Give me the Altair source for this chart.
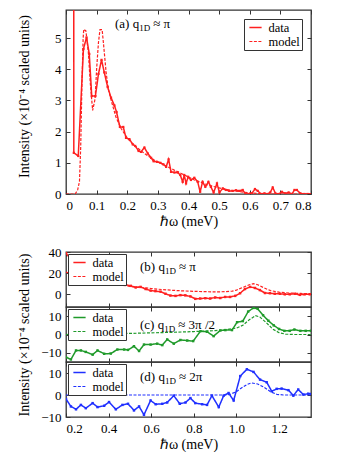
import altair as alt
import pandas as pd

FONT = "Liberation Serif"
RED = "#ff2020"
GREEN = "#1f9a2a"
BLUE = "#2030ff"
FRAME = "#333333"

# ---------------- panel (a) ----------------
a_data_x = [0.025, 0.0255, 0.040, 0.057, 0.067, 0.076, 0.084, 0.096, 0.106, 0.116, 0.125, 0.136,
            0.147, 0.158, 0.165, 0.176, 0.187, 0.196, 0.207, 0.218, 0.226, 0.237, 0.245, 0.256,
            0.267, 0.278, 0.286, 0.297, 0.308, 0.318, 0.327, 0.335, 0.343, 0.354, 0.365, 0.373,
            0.381, 0.386, 0.392, 0.399, 0.408, 0.419, 0.430, 0.438, 0.446, 0.455, 0.465, 0.473,
            0.482, 0.493, 0.501, 0.512, 0.522, 0.533, 0.544, 0.555, 0.566, 0.577, 0.586, 0.596,
            0.607, 0.617, 0.626, 0.637, 0.648, 0.658, 0.667, 0.675, 0.684, 0.694, 0.705, 0.716,
            0.727, 0.738, 0.746, 0.754, 0.765, 0.778, 0.789, 0.800]
a_data_y = [20.0, 1.32, 1.22, 4.65, 5.02, 4.49, 3.14, 3.14, 3.85, 4.30, 3.90, 3.43,
            3.09, 2.84, 2.63, 2.15, 2.15, 1.80, 1.76, 1.59, 1.54, 1.38, 1.35, 1.49,
            1.30, 1.16, 1.05, 1.03, 1.00, 0.95, 0.87, 1.11, 0.71, 0.69, 0.69, 0.61,
            0.39, 0.61, 0.34, 0.55, 0.45, 0.52, 0.39, 0.07, 0.39, 0.23, 0.39, 0.23,
            0.05, 0.34, 0.05, 0.18, 0.13, 0.10, 0.10, 0.12, 0.10, 0.13, 0.00, 0.00,
            0.02, 0.16, 0.10, 0.00, 0.02, 0.00, 0.05, 0.21, 0.02, 0.00, 0.07, 0.02,
            0.05, 0.00, 0.13, 0.13, 0.02, 0.00, 0.00, 0.00]
a_model_x = [0.0, 0.030, 0.038, 0.044, 0.048, 0.052, 0.056, 0.058, 0.065, 0.073, 0.079, 0.087,
             0.095, 0.100, 0.106, 0.111, 0.118, 0.123, 0.131, 0.138, 0.149, 0.163, 0.180,
             0.201, 0.223, 0.256, 0.288, 0.332, 0.376, 0.419, 0.463, 0.506, 0.550, 0.604,
             0.658, 0.800]
a_model_y = [0.0, 0.0, 0.13, 0.4, 1.5, 3.5, 5.0, 5.28, 5.23, 4.54, 3.59, 2.68,
             3.05, 4.01, 4.86, 5.27, 5.27, 4.76, 3.90, 3.37, 2.95, 2.47, 2.10,
             1.78, 1.56, 1.30, 1.09, 0.87, 0.66, 0.45, 0.29, 0.18, 0.10, 0.03,
             0.0, 0.0]

# ---------------- panel (b) ----------------
b_data_x = [0.200, 0.223, 0.247, 0.270, 0.293, 0.317, 0.340, 0.364, 0.387, 0.410, 0.434, 0.457,
            0.480, 0.504, 0.527, 0.550, 0.574, 0.597, 0.620, 0.644, 0.667, 0.690, 0.714, 0.737,
            0.760, 0.784, 0.807, 0.830, 0.854, 0.877, 0.900, 0.924, 0.947, 0.970, 0.994, 1.017,
            1.040, 1.064, 1.087, 1.110, 1.134, 1.157, 1.180, 1.204, 1.227, 1.250, 1.274, 1.297,
            1.320, 1.344]
b_data_y = [39, 33, 28, 24, 21, 19, 17, 15, 14, 13, 12, 10,
            9, 8, 6.5, 7, 5, 3.5, 3, 2.5, 0.5, -1.2, -1.5, -0.8,
            -1, -2, -4.3, -4, -3.7, -4, -3, -3.5, -2.5, -2.5, -1.5, 1.0,
            5, 7, 6, 4, 1.2, 1, 0.5, 0.5, 0, 0, 0.5, -0.5,
            0, 0]
b_model_x = [0.20, 0.25, 0.30, 0.35, 0.40, 0.45, 0.50, 0.55, 0.60, 0.65, 0.70, 0.75, 0.80,
             0.85, 0.90, 0.95, 0.98, 1.00, 1.03, 1.06, 1.08, 1.10, 1.13, 1.16, 1.20, 1.25,
             1.30, 1.35]
b_model_y = [21, 18, 15, 12.5, 10.5, 9, 7.5, 6.5, 5.5, 4.5, 3.8, 3.2, 2.8,
             2.5, 2.3, 2.5, 3, 4, 6.5, 9, 10, 9, 6, 3.5, 2, 1.2,
             0.8, 0.6]

# ---------------- panel (c) ----------------
c_data_x = [0.200, 0.223, 0.247, 0.270, 0.293, 0.325, 0.348, 0.379, 0.410, 0.441, 0.473, 0.491,
            0.519, 0.543, 0.566, 0.597, 0.628, 0.652, 0.675, 0.706, 0.737, 0.769, 0.797, 0.831,
            0.862, 0.893, 0.924, 0.948, 0.979, 1.003, 1.030, 1.055, 1.080, 1.100, 1.125, 1.150,
            1.175, 1.200, 1.225, 1.250, 1.272, 1.300, 1.325, 1.350]
c_data_y = [-12.4, -13.6, -8.7, -8.7, -9.5, -11.0, -8.7, -10.5, -10.4, -8.2, -8.2, -8.4,
            -6.4, -9.0, -5.5, -5.5, -5.0, -5.8, -2.7, -5.0, -3.0, -3.3, -3.6, 1.8,
            1.5, -0.9, 2.2, 2.4, 2.4, 6.7, 7.3, 12.5, 14.5, 14.0, 10.5, 7.5,
            5.0, 3.0, 2.0, 2.0, 2.7, 2.0, 2.0, 2.0]
c_model_x = [0.20, 0.30, 0.40, 0.50, 0.60, 0.70, 0.80, 0.90, 0.95, 1.00, 1.03, 1.06, 1.09,
             1.11, 1.14, 1.17, 1.20, 1.23, 1.27, 1.35]
c_model_y = [0.0, 0.2, 0.4, 0.6, 0.9, 1.2, 1.6, 2.1, 2.6, 3.5, 5.0, 8.0, 10.3,
             9.5, 6.5, 3.0, 1.0, 0.2, 0.0, 0.0]

# ---------------- panel (d) ----------------
d_data_x = [0.200, 0.223, 0.247, 0.270, 0.293, 0.325, 0.348, 0.379, 0.402, 0.434, 0.465, 0.491,
            0.519, 0.543, 0.566, 0.597, 0.621, 0.652, 0.675, 0.706, 0.734, 0.761, 0.784, 0.807,
            0.839, 0.862, 0.885, 0.917, 0.940, 0.963, 0.987, 1.018, 1.049, 1.080, 1.111, 1.142,
            1.166, 1.189, 1.212, 1.244, 1.267, 1.290, 1.314, 1.337, 1.350]
d_data_y = [-1.8, -5.2, -6.5, -4.5, -6.0, -3.7, -5.5, -4.9, -3.2, -6.5, -4.5, -4.0,
            -7.0, -5.2, -9.0, -2.5, -4.2, -4.0, -3.4, -0.3, -4.0, -3.4, -1.4, -3.7,
            -4.2, -4.5, -0.3, -5.5, -0.3, 0.9, -2.5, 8.6, 11.7, 10.5, 7.0, 5.8,
            1.7, 2.8, 2.9, 2.2, -0.3, 2.5, 0.2, 0.6, 0.5]
d_model_x = [0.20, 0.94, 0.97, 1.00, 1.02, 1.05, 1.07, 1.10, 1.13, 1.16, 1.19, 1.22, 1.35]
d_model_y = [0.0, 0.0, 0.3, 1.5, 3.0, 4.8, 5.5, 5.0, 3.5, 1.5, 0.3, 0.0, 0.0]

SERIES = ["data", "model"]
YTITLE = "Intensity (×10⁻⁴ scaled units)"
XTITLE = "ℏω (meV)"


def frame_df(dx, dy, mx, my):
    d = pd.DataFrame({"x": dx, "y": dy, "series": "data"})
    m = pd.DataFrame({"x": mx, "y": my, "series": "model"})
    return pd.concat([d, m], ignore_index=True), d


def text_layer(x, y, txt, size):
    return alt.Chart(pd.DataFrame({"k": [0]})).mark_text(
        font=FONT, fontSize=size, align="left", baseline="middle", color="black"
    ).encode(x=alt.value(x), y=alt.value(y), text=alt.value(txt))


def panel(df, dd, color, xdom, ydom, xticks, xfmt, yticks, height, show_x, ytitle_y,
          legend_orient, legend_offset, label_parts, label_x, label_y, pt_size=6):
    xs = alt.Scale(domain=xdom, nice=False, zero=False)
    ys = alt.Scale(domain=ydom, nice=False, zero=False)
    bottom_kw = dict(orient="bottom", values=xticks, format=xfmt, labels=show_x, offset=-4,
                     tickSize=4, domain=False, grid=False, labelPadding=5, titlePadding=2,
                     labelFont=FONT)
    left_kw = dict(orient="left", values=yticks, format="d", offset=-4, tickSize=4,
                   domain=False, grid=False, labelPadding=5, labelFont=FONT)
    if ytitle_y is not None:
        left_kw.update(titleX=-46, titleY=ytitle_y, titleAngle=270, titleBaseline="middle",
                       titleAlign="center")
    x_enc = alt.X("x:Q", scale=xs, axis=alt.Axis(**bottom_kw),
                  title=XTITLE if show_x else None)
    y_enc = alt.Y("y:Q", scale=ys, axis=alt.Axis(**left_kw),
                  title=YTITLE if ytitle_y is not None else None)
    leg = alt.Legend(title=None, orient=legend_orient, offset=legend_offset, strokeColor=FRAME,
                     fillColor="white", padding=1.5, symbolSize=150, symbolStrokeWidth=1.5,
                     labelFont=FONT, labelFontSize=12.5, rowPadding=-1, labelOffset=6,
                     symbolOffset=3, symbolType="stroke")
    lines = alt.Chart(df).mark_line(clip=True).encode(
        x=x_enc,
        y=y_enc,
        color=alt.Color("series:N", scale=alt.Scale(domain=SERIES, range=[color, color]), legend=leg),
        strokeDash=alt.StrokeDash("series:N",
                                  scale=alt.Scale(domain=SERIES, range=[[1, 0], [3, 1.5]]),
                                  legend=leg),
        strokeWidth=alt.StrokeWidth("series:N", scale=alt.Scale(domain=SERIES, range=[1.5, 1.2]),
                                    legend=None),
    )
    pts = alt.Chart(dd).mark_point(filled=True, shape="square", size=pt_size, clip=True,
                                   color=color, opacity=1).encode(
        x=alt.X("x:Q", scale=xs,
                axis=alt.Axis(orient="top", values=xticks, labels=False, offset=-4, tickSize=4,
                              domain=False, grid=False), title=None),
        y=alt.Y("y:Q", scale=ys,
                axis=alt.Axis(orient="right", values=yticks, labels=False, offset=-4, tickSize=4,
                              domain=False, grid=False), title=None),
    )
    layers = [lines, pts]
    # label "(x) q_1D ≈ ..."
    main1, sub, main2, w1 = label_parts
    layers.append(text_layer(label_x, label_y, main1, 13))
    layers.append(text_layer(label_x + w1, label_y + 4, sub, 9))
    layers.append(text_layer(label_x + w1 + 14, label_y, main2, 13))
    return alt.layer(*layers).resolve_axis(x="independent", y="independent").properties(
        width=245, height=height)


dfa, dda = frame_df(a_data_x, a_data_y, a_model_x, a_model_y)
dfb, ddb = frame_df(b_data_x, b_data_y, b_model_x, b_model_y)
dfc, ddc = frame_df(c_data_x, c_data_y, c_model_x, c_model_y)
dfd, ddd = frame_df(d_data_x, d_data_y, d_model_x, d_model_y)

pa = panel(dfa, dda, RED, [0, 0.8], [0, 5.9], [0, 0.1, 0.2, 0.3, 0.4, 0.5, 0.6, 0.7, 0.8], ".1~f",
           [0, 1, 2, 3, 4, 5], 184, True, 86, "top-right", 9,
           ("(a) q", "1D", "≈ π", 24.2), 49, 14, pt_size=5)
xt = [0.2, 0.4, 0.6, 0.8, 1.0, 1.2]
pb = panel(dfb, ddb, RED, [0.2, 1.35], [-12, 40], xt, ".1f", [0, 20, 40], 55, False, None,
           "top-left", 2, ("(b) q", "1D", "≈ π", 24.9), 74, 15)
pc = panel(dfc, ddc, GREEN, [0.2, 1.35], [-15, 15], xt, ".1f", [-10, 0, 10], 55, False, 27.5,
           "top-left", 2, ("(c) q", "1D", "≈ 3π /2", 24.2), 74, 17.5)
pd_ = panel(dfd, ddd, BLUE, [0.2, 1.35], [-10, 15], xt, ".1f", [-10, 0, 10], 55, True, None,
            "top-left", 2, ("(d) q", "1D", "≈ 2π", 24.9), 74, 15)

res = dict(x="independent", y="independent", color="independent", strokeDash="independent",
           strokeWidth="independent")
bottom = alt.vconcat(pb, pc, pd_, spacing=0, bounds="flush").resolve_scale(**res).resolve_legend(
    color="independent", strokeDash="independent")

chart = alt.vconcat(pa, bottom, spacing=16).resolve_scale(**res).resolve_legend(
    color="independent", strokeDash="independent"
).properties(
    padding={"left": 8, "top": 0, "right": 5, "bottom": 0}
).configure(
    font=FONT
).configure_view(
    stroke=FRAME, strokeWidth=1.3
).configure_axis(
    labelFont=FONT, labelFontSize=13, labelColor="black", titleFont=FONT, titleFontSize=14,
    titleFontWeight="normal", titleColor="black", tickColor=FRAME, tickWidth=1
).configure_legend(
    labelFont=FONT, labelColor="black"
)

chart.save("out.html", embed_options={"renderer": "svg", "actions": False})
